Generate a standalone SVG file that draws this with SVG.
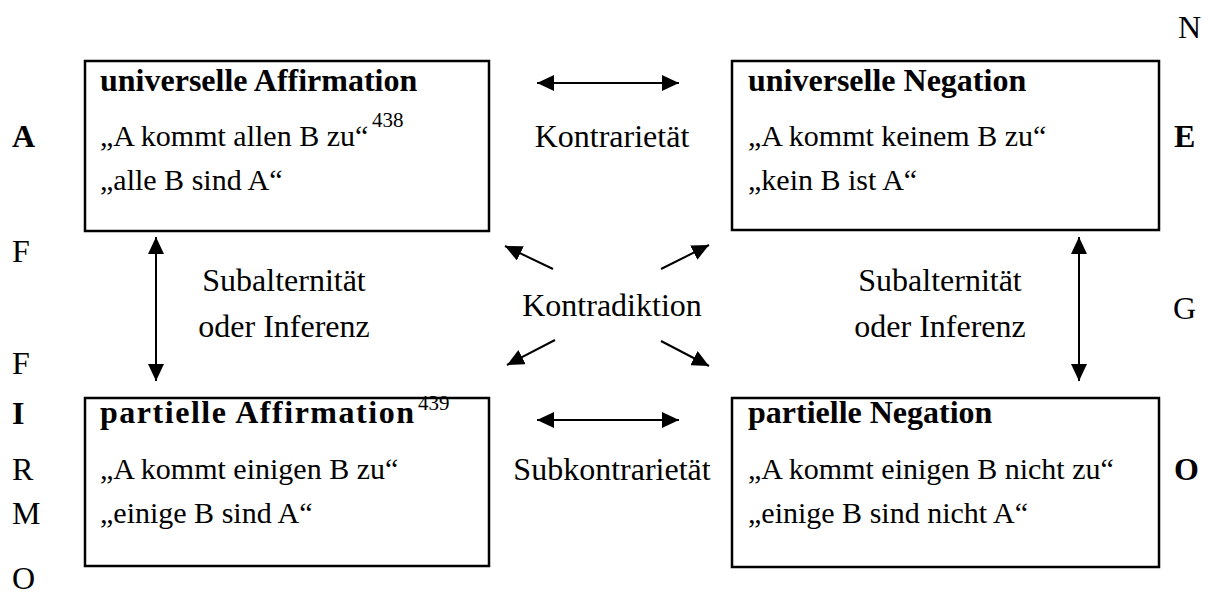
<svg xmlns="http://www.w3.org/2000/svg" width="1219" height="597" viewBox="0 0 1219 597">
<style>
text{font-family:"Liberation Serif","Times New Roman",serif;font-size:32px;fill:#000}
.b{font-weight:bold}
.q{font-size:30px}
.sup{font-size:21px}
.m{text-anchor:middle}
.box{fill:#fff;stroke:#000;stroke-width:2.5}
.con{stroke:#000;stroke-width:2;fill:none}
</style>
<defs>
<marker id="ah" markerUnits="userSpaceOnUse" markerWidth="18" markerHeight="16" viewBox="0 0 18 16" refX="17" refY="8" orient="auto-start-reverse">
<path d="M0,0 L17,8 L0,16 Z" fill="#000"/>
</marker>
</defs>
<rect width="1219" height="597" fill="#fff"/>
<g id="side-letters">
<text x="1178" y="38">N</text>
<text class="b" x="12" y="147">A</text>
<text class="b" x="1174" y="147">E</text>
<text x="12" y="262">F</text>
<text x="1173" y="319">G</text>
<text x="12" y="374">F</text>
<text class="b" x="12" y="424">I</text>
<text x="12" y="480">R</text>
<text class="b" x="1174" y="480">O</text>
<text x="12" y="524">M</text>
<text x="12" y="589">O</text>
</g>
<g id="node-A">
<rect class="box" x="85" y="61" width="404" height="170"/>
<text class="b" x="100" y="91">universelle Affirmation</text>
<text class="q" x="100" y="146">„A kommt allen B zu“</text>
<text class="sup" x="372" y="127">438</text>
<text class="q" x="100" y="190">„alle B sind A“</text>
</g>
<g id="node-E">
<rect class="box" x="732" y="61" width="427" height="169"/>
<text class="b" x="748" y="91">universelle Negation</text>
<text class="q" x="748" y="146">„A kommt keinem B zu“</text>
<text class="q" x="748" y="190">„kein B ist A“</text>
</g>
<g id="node-I">
<rect class="box" x="85" y="398" width="404" height="168"/>
<text class="b" x="100" y="423" textLength="314" lengthAdjust="spacing">partielle Affirmation</text>
<text class="sup" x="418" y="410">439</text>
<text class="q" x="100" y="479">„A kommt einigen B zu“</text>
<text class="q" x="100" y="523">„einige B sind A“</text>
</g>
<g id="node-O">
<rect class="box" x="732" y="398" width="427" height="169"/>
<text class="b" x="748" y="423">partielle Negation</text>
<text class="q" x="748" y="479">„A kommt einigen B nicht zu“</text>
<text class="q" x="748" y="523">„einige B sind nicht A“</text>
</g>
<g id="connectors">
<line class="con" x1="537" y1="83" x2="679" y2="83" marker-start="url(#ah)" marker-end="url(#ah)"/>
<line class="con" x1="537" y1="420" x2="679" y2="420" marker-start="url(#ah)" marker-end="url(#ah)"/>
<line class="con" x1="156" y1="237" x2="156" y2="381" marker-start="url(#ah)" marker-end="url(#ah)"/>
<line class="con" x1="1079" y1="237" x2="1079" y2="381" marker-start="url(#ah)" marker-end="url(#ah)"/>
<line class="con" x1="553" y1="269" x2="505" y2="246" marker-end="url(#ah)"/>
<line class="con" x1="661" y1="269" x2="709" y2="245" marker-end="url(#ah)"/>
<line class="con" x1="555" y1="340" x2="507" y2="365" marker-end="url(#ah)"/>
<line class="con" x1="661" y1="341" x2="709" y2="366" marker-end="url(#ah)"/>
</g>
<g id="labels">
<text class="m" x="612" y="147">Kontrarietät</text>
<text class="m" x="612" y="316">Kontradiktion</text>
<text class="m" x="612" y="480">Subkontrarietät</text>
<text class="m" x="284" y="291">Subalternität</text>
<text class="m" x="284" y="337">oder Inferenz</text>
<text class="m" x="940" y="291">Subalternität</text>
<text class="m" x="940" y="337">oder Inferenz</text>
</g>
</svg>
